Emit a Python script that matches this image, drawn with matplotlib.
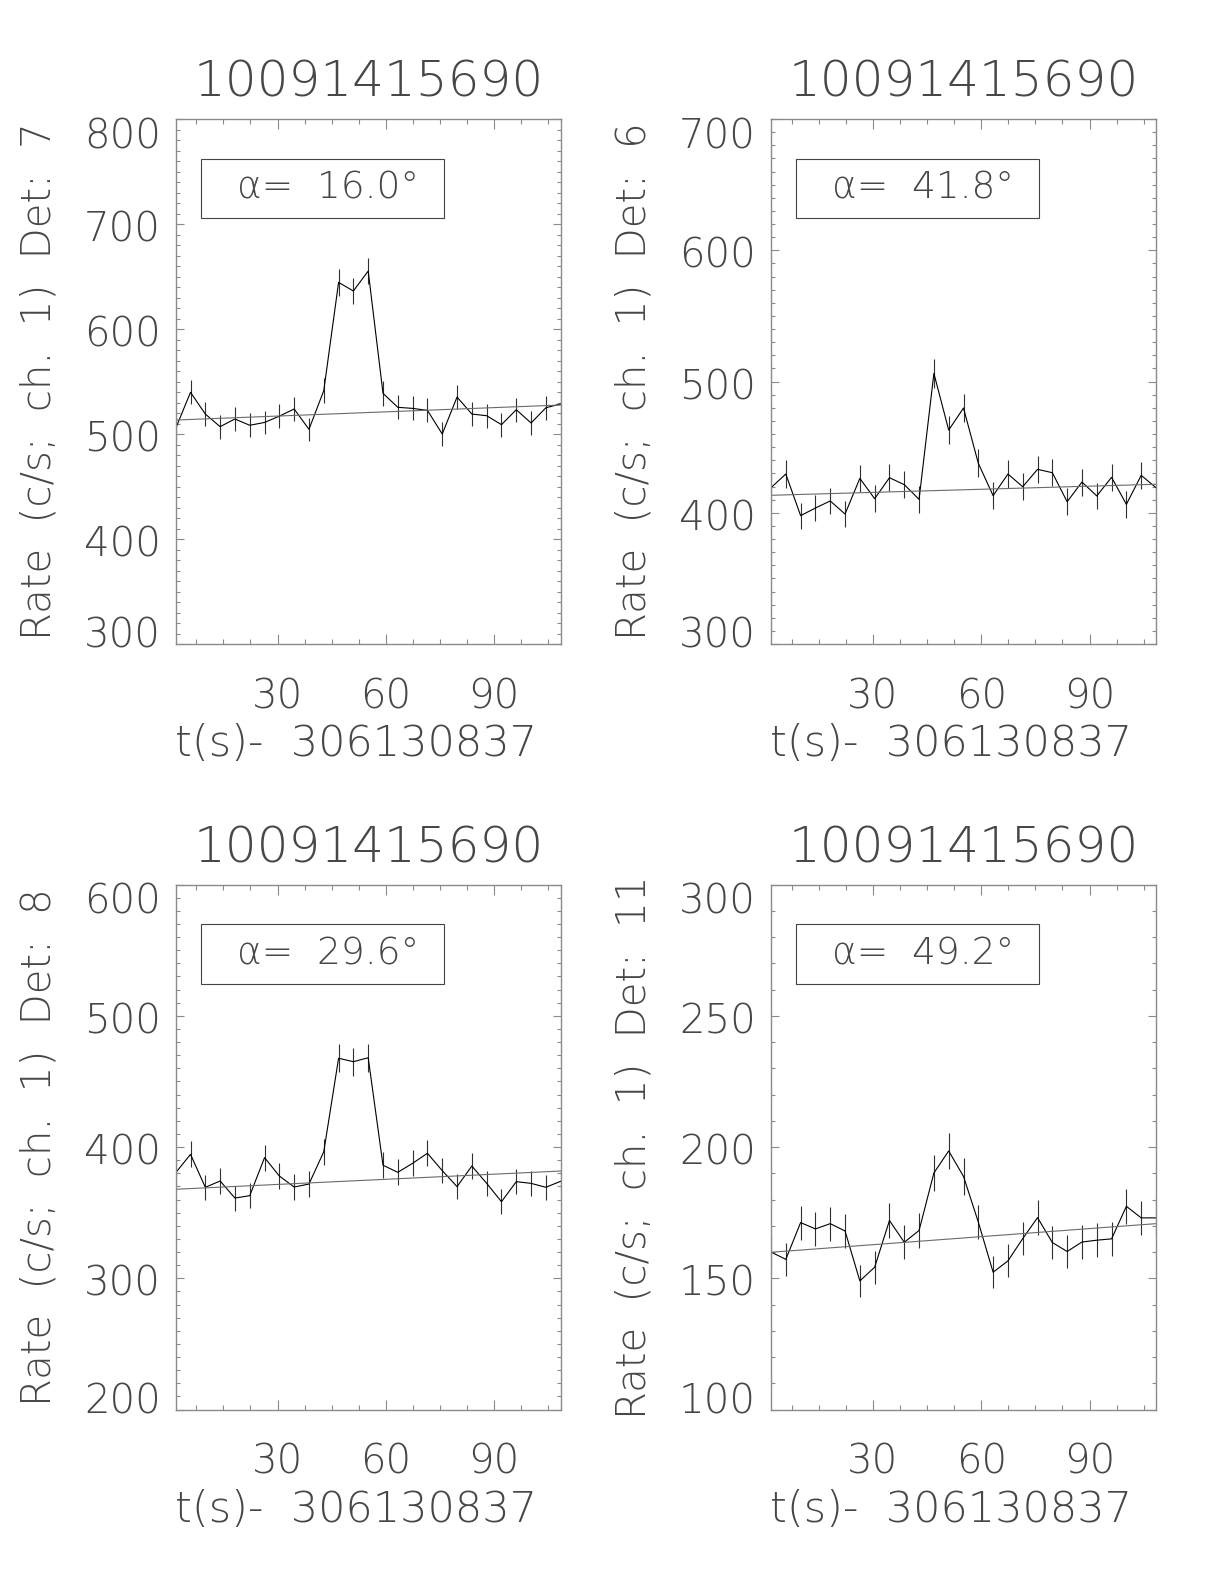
import matplotlib
matplotlib.use("Agg")
import matplotlib.pyplot as plt
import matplotlib.transforms as mtransforms
from matplotlib.ticker import MultipleLocator
from matplotlib.patches import Rectangle

plt.rcParams['font.family'] = ['DejaVu Sans']
plt.rcParams['font.weight'] = 'ultralight'
plt.rcParams['axes.titleweight'] = 'ultralight'
plt.rcParams['axes.labelweight'] = 'ultralight'

# ====== data ======
t0_label = "306130837"
trig_id = "10091415690"

# bin times (s) relative to t0
t = [1.8, 5.9, 10.0, 14.1, 18.2, 22.3, 26.4, 30.5, 34.6, 38.7, 42.8, 46.9, 51.0, 55.1,
     59.2, 63.3, 67.4, 71.5, 75.6, 79.7, 83.8, 87.9, 92.0, 96.1, 100.2, 104.3, 108.4]

# Det 7
rate_det7 = [505.4, 539.7, 519.0, 507.0, 514.3, 508.3, 511.0, 517.0, 523.8, 504.5, 541.3, 644.4, 636.2, 655.2,
             538.7, 525.4, 524.4, 522.5, 500.0, 535.2, 519.0, 517.4, 508.9, 523.1, 510.5, 525.0, 528.6]
err_det7 = [11.2, 11.6, 11.4, 11.3, 11.4, 11.3, 11.3, 11.4, 11.4, 11.2, 11.6, 12.7, 12.6, 12.8,
            11.6, 11.5, 11.5, 11.4, 11.2, 11.6, 11.4, 11.4, 11.3, 11.4, 11.3, 11.5, 11.5]
fit_det7 = [513.3, 527.6]

# Det 6
rate_det6 = [419.1, 429.5, 397.8, 403.6, 409.0, 399.0, 426.2, 410.7, 426.7, 421.4, 410.2, 506.2, 463.0, 479.8,
             437.7, 413.0, 429.5, 419.8, 433.1, 430.5, 408.4, 423.4, 412.8, 427.0, 406.4, 428.5, 419.1]
err_det6 = [10.2, 10.4, 10.0, 10.0, 10.1, 10.0, 10.3, 10.1, 10.3, 10.2, 10.1, 11.2, 10.8, 11.0,
            10.5, 10.2, 10.4, 10.2, 10.4, 10.4, 10.1, 10.3, 10.2, 10.3, 10.1, 10.3, 10.2]
fit_det6 = [413.3, 421.7]

# Det 8
rate_det8 = [380.4, 394.4, 369.3, 374.1, 361.1, 362.9, 391.9, 377.9, 369.5, 371.8, 396.4, 467.6, 465.0, 468.0,
             386.1, 380.7, 387.6, 395.2, 382.0, 369.8, 385.5, 372.3, 358.3, 373.6, 372.3, 369.3, 373.9]
err_det8 = [9.8, 9.9, 9.6, 9.7, 9.5, 9.5, 9.9, 9.7, 9.6, 9.6, 10.0, 10.8, 10.8, 10.8,
            9.8, 9.8, 9.8, 9.9, 9.8, 9.6, 9.8, 9.6, 9.5, 9.7, 9.6, 9.6, 9.7]
fit_det8 = [367.8, 381.7]

# Det 11
rate_det11 = [160.0, 157.2, 171.2, 168.8, 170.8, 168.0, 149.0, 154.2, 172.0, 163.7, 168.2, 190.1, 198.5, 188.8,
              171.4, 152.3, 156.6, 165.1, 173.1, 163.6, 160.2, 163.8, 164.5, 165.0, 177.4, 173.0, 173.0]
err_det11 = [6.3, 6.2, 6.5, 6.5, 6.5, 6.5, 6.1, 6.2, 6.6, 6.4, 6.5, 6.9, 7.0, 6.9,
             6.5, 6.2, 6.3, 6.4, 6.6, 6.4, 6.3, 6.4, 6.4, 6.4, 6.7, 6.6, 6.6]
fit_det11 = [159.9, 170.8]

panels = [
    # rate, err, fit, det, angle, ylim, major step
    (rate_det7, err_det7, fit_det7, "7", "16.0", (300, 800), 100),
    (rate_det6, err_det6, fit_det6, "6", "41.8", (300, 700), 100),
    (rate_det8, err_det8, fit_det8, "8", "29.6", (200, 600), 100),
    (rate_det11, err_det11, fit_det11, "11", "49.2", (100, 300), 50),
]
# ==================

W, H = 1224, 1584
fig = plt.figure(figsize=(W / 100, H / 100), dpi=100)

txt_col = "#474747"
ax_col = "#8a8a8a"
lefts = [175.7, 771.0]
tops = [119.0, 884.5]
aw, ah = 385.0, 525.0
fs = 29

for k, (rate, err, fit, det, ang, ylim, step) in enumerate(panels):
    row, col = divmod(k, 2)
    left = lefts[col] / W
    bottom = (H - tops[row] - ah) / H
    ax = fig.add_axes([left, bottom, aw / W, ah / H])

    ax.errorbar(t, rate, yerr=err, fmt='none', ecolor="#303030", elinewidth=0.8, capsize=0)
    ax.plot(t, rate, color="black", lw=0.8)
    ax.plot([t[0], t[-1]], fit, color="#6a6a6a", lw=0.8)

    ax.set_xlim(t[0], t[-1])
    ax.set_ylim(*ylim)
    ax.set_xticks([30, 60, 90])
    ax.xaxis.set_minor_locator(MultipleLocator(7.5))
    ax.yaxis.set_major_locator(MultipleLocator(step))
    ax.yaxis.set_minor_locator(MultipleLocator(10))

    for s in ax.spines.values():
        s.set_color(ax_col)
        s.set_linewidth(1.0)
    ax.tick_params(which='both', direction='in', top=True, right=True, colors=ax_col, width=0.8)
    ax.tick_params(axis='x', which='major', length=7.2, pad=24, labelsize=fs, labelcolor=txt_col)
    ax.tick_params(axis='x', which='minor', length=3.4)
    ax.tick_params(axis='y', which='major', length=5.5, labelleft=False)
    ax.tick_params(axis='y', which='minor', length=2.6)

    # y labels drawn by hand: IDL pulls the end labels inside the axis range
    ybase = mtransforms.blended_transform_factory(ax.transAxes, ax.transData)
    yvals = list(range(ylim[0], ylim[1] + 1, step))
    for i, v in enumerate(yvals):
        dy = -2
        if i == 0:
            dy = 12
        elif i == len(yvals) - 1:
            dy = -14
        tr = mtransforms.offset_copy(ybase, fig=fig, x=-15, y=dy, units='dots')
        ax.text(0, v, str(v), transform=tr, ha='right', va='center_baseline',
                fontsize=fs, color=txt_col)

    ax.set_title(trig_id, fontsize=36, color=txt_col, pad=16)
    ax.set_ylabel("Rate  (c/s;  ch.  1)  Det:  " + det, fontsize=fs, color=txt_col)
    ax.yaxis.set_label_coords(-0.355, 0.5)
    ax.yaxis.label.set_va('center')
    ax.set_xlabel("t(s)-  " + t0_label, fontsize=31, color=txt_col)
    ax.xaxis.set_label_coords(0.468, -0.19)
    ax.xaxis.label.set_va('center')

    ax.add_patch(Rectangle((0.066, 0.811), 0.631, 0.113, transform=ax.transAxes,
                           fill=False, ec="#444444", lw=0.8))
    ax.text(0.396, 0.868, "α=  " + ang + "°", transform=ax.transAxes, fontsize=27,
            color=txt_col, ha='center', va='center')

fig.savefig("out.png", dpi=100)
